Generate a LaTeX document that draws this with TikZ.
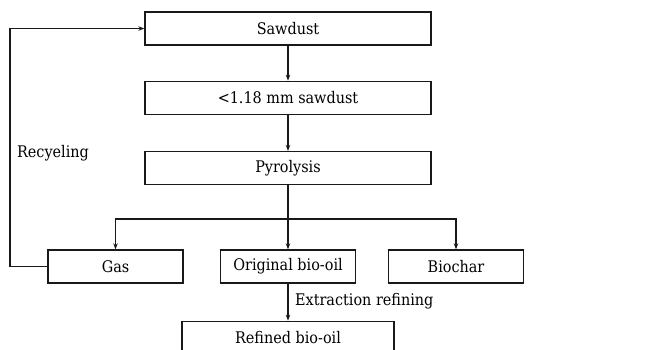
\documentclass[tikz,border=0pt]{standalone}
\usepackage{fontspec}
\setmainfont{DejaVu Serif Condensed}
\usetikzlibrary{positioning,arrows.meta}

\begin{document}
\begin{tikzpicture}[x=1pt,y=-1pt,
    box/.style={draw=black!90, line width=1.3pt, minimum height=33pt, inner sep=0pt, font=\fontsize{16}{18}\selectfont},
    wide/.style={box, minimum width=286pt},
    small/.style={box, minimum width=135pt},
    flow/.style={-{Stealth[length=6pt,width=4.5pt]}, line width=1.2pt, draw=black!90},
    lbl/.style={font=\fontsize{16}{18}\selectfont, inner sep=0pt}
]
    \clip (0,0) rectangle (665,350);
    \fill[white] (0,0) rectangle (665,350);

    \node[wide] at (288,28.5) (saw) {Sawdust};
    \node[wide, below=35pt of saw] (fine) {<1.18 mm sawdust};
    \node[wide, below=36pt of fine] (pyro) {Pyrolysis};

    \node[small] at (115.5,266.5) (gas) {Gas};
    \node[small] at (288,266.5) (oil) {Original bio-oil};
    \node[small] at (456,266.5) (char) {Biochar};
    \node[box, minimum width=212pt, below=37pt of oil] (refined) {Refined bio-oil};

    \coordinate (split) at (288,219);
    \coordinate (loop) at (10,0);

    \draw[flow] (saw) -- (fine);
    \draw[flow] (fine) -- (pyro);
    \draw[line width=1.2pt, draw=black!90] (pyro) -- (split);
    \draw[flow] (split) -- (oil);
    \draw[flow] (split) -| (gas);
    \draw[flow] (split) -| (char);
    \draw[flow] (oil) -- (refined);
    \draw[flow] (gas.west) -| (loop |- gas.west) |- (saw.west);

    \node[lbl] at (53,153) (recyc) {Recyeling};
    \node[lbl, anchor=west] at (295,301) (extr) {Extraction refining};
\end{tikzpicture}
\end{document}
